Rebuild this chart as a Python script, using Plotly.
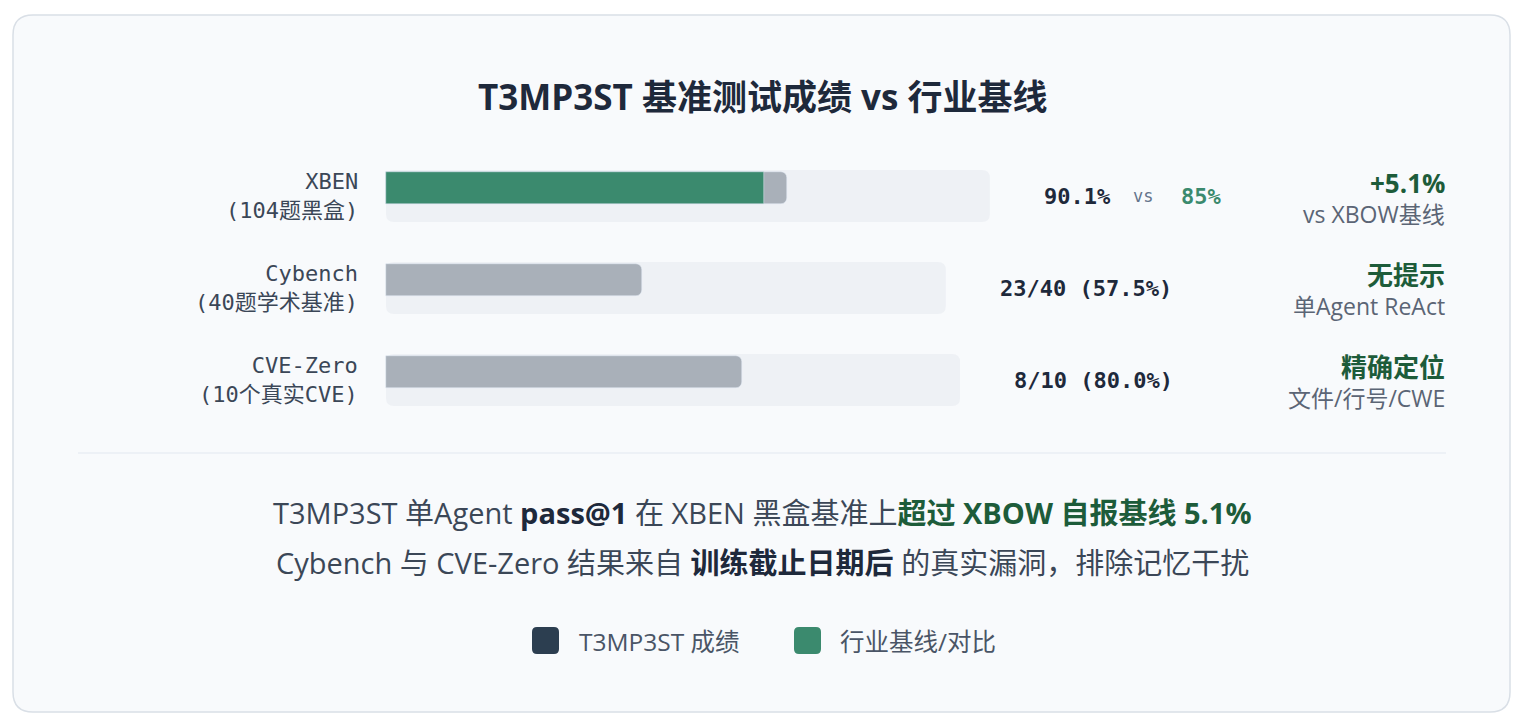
import plotly.graph_objects as go

W, H = 1524, 726

# ---------------- data ----------------
categories = ["XBEN", "Cybench", "CVE-Zero"]
sublabels = ["(104题黑盒)", "(40题学术基准)", "(10个真实CVE)"]
t3_scores = [90.1, 57.5, 80.0]          # T3MP3ST pass rate (%)
baseline = [85.0, None, None]            # industry baseline (%)
value_texts = ["90.1%", "23/40 (57.5%)", "8/10 (80.0%)"]
baseline_texts = ["85%", None, None]
badge_titles = ["+5.1%", "无提示", "精确定位"]
badge_subs = ["vs XBOW基线", "单Agent ReAct", "文件/行号/CWE"]
track_max = [135.7, 125.8, 129.0]        # width of light track per row (% scale)
legend_names = ["T3MP3ST 成绩", "行业基线/对比"]

# ---------------- style ----------------
SANS = "Segoe UI, Open Sans, Noto Sans CJK SC, sans-serif"
MONO = "DejaVu Sans Mono, Noto Sans CJK SC, monospace"
C_TITLE = "#1e293b"
C_TEXT = "#3b4757"
C_GRAY_TXT = "#5b6575"
C_GREEN = "#3b8a6e"
C_DKGREEN = "#1d5c3a"
C_BAR = "#a9b0b9"
C_TRACK = "#eef1f5"
C_NAVY = "#2c3e50"

X0_PX = 386.0          # pixel where 0% sits
PX_PER_PCT = 4.45      # pixel per percent
ROW0_PX = 188.0        # pixel center of first bar
ROW_STEP = 92.0
BAR_PX = 32.0


def px(x):
    return x / W


def py(y):
    return 1 - y / H


def rrect(x0, y0, x1, y1, r):
    """rounded rectangle path in paper coords from pixel box"""
    rx, ry = r / W, r / H
    X0, X1 = px(x0), px(x1)
    Y0, Y1 = py(y0), py(y1)  # Y0 top (larger), Y1 bottom
    return (f"M {X0+rx},{Y0} L {X1-rx},{Y0} Q {X1},{Y0} {X1},{Y0-ry} "
            f"L {X1},{Y1+ry} Q {X1},{Y1} {X1-rx},{Y1} L {X0+rx},{Y1} "
            f"Q {X0},{Y1} {X0},{Y1+ry} L {X0},{Y0-ry} Q {X0},{Y0} {X0+rx},{Y0} Z")


fig = go.Figure()

fig.add_trace(go.Bar(
    y=categories, x=t3_scores, orientation="h", name=legend_names[0],
    marker=dict(color=C_BAR, cornerradius=6), width=BAR_PX / ROW_STEP,
    showlegend=False, hoverinfo="skip"))
fig.add_trace(go.Bar(
    y=categories, x=baseline, orientation="h", name=legend_names[1],
    marker=dict(color=C_GREEN, cornerradius=6), width=BAR_PX / ROW_STEP,
    showlegend=False, hoverinfo="skip"))

xr = [-X0_PX / PX_PER_PCT, (W - X0_PX) / PX_PER_PCT]
yr = [(H - ROW0_PX) / ROW_STEP, -ROW0_PX / ROW_STEP]

shapes = []
# card
shapes.append(dict(type="path", path=rrect(13, 15, 1510, 712, 20), xref="paper", yref="paper",
                   fillcolor="#f8fafc", line=dict(color="#d9dfe6", width=1.5), layer="below"))
# tracks
for i, tm in enumerate(track_max):
    cy = ROW0_PX + i * ROW_STEP
    x_end = X0_PX + tm * PX_PER_PCT
    shapes.append(dict(type="path", path=rrect(X0_PX, cy - 18, x_end, cy + 34, 8),
                       xref="paper", yref="paper", fillcolor=C_TRACK, line=dict(width=0),
                       layer="below"))
# separator
shapes.append(dict(type="line", xref="paper", yref="paper", x0=px(78), x1=px(1446),
                   y0=py(453), y1=py(453), line=dict(color="#e2e8f0", width=1.2)))
# legend squares
for sx, col in [(532, C_NAVY), (794, C_GREEN)]:
    shapes.append(dict(type="path", path=rrect(sx, 627, sx + 27, 654, 5), xref="paper",
                       yref="paper", fillcolor=col, line=dict(width=0)))

ann = []
ann.append(dict(text="<b>T3MP3ST 基准测试成绩 vs 行业基线</b>", x=px(762), y=py(97),
                xref="paper", yref="paper", showarrow=False, xanchor="center", yanchor="middle",
                font=dict(family=SANS, size=35, color=C_TITLE)))

for i, cat in enumerate(categories):
    cy = ROW0_PX + i * ROW_STEP
    # left labels
    ann.append(dict(text=f"{cat}<br>{sublabels[i]}", x=px(360), y=cat, xref="paper", yref="y",
                    yshift=-8, showarrow=False, xanchor="right", yanchor="middle", align="right",
                    font=dict(family=MONO, size=22, color=C_TEXT)))
    # value texts
    vx = X0_PX + track_max[i] * PX_PER_PCT + 52
    ann.append(dict(text=f"<b>{value_texts[i]}</b>", x=px(vx), y=cat, xref="paper", yref="y",
                    yshift=-8, showarrow=False, xanchor="left", yanchor="middle",
                    font=dict(family=MONO, size=22, color=C_TITLE)))
    if baseline_texts[i]:
        ann.append(dict(text="vs", x=px(1143), y=cat, xref="paper", yref="y", yshift=-8,
                        showarrow=False, xanchor="center", yanchor="middle",
                        font=dict(family=MONO, size=17, color="#64748b")))
        ann.append(dict(text=f"<b>{baseline_texts[i]}</b>", x=px(1179), y=cat, xref="paper",
                        yref="y", yshift=-8, showarrow=False, xanchor="left", yanchor="middle",
                        font=dict(family=MONO, size=22, color=C_GREEN)))
    # right badges
    ann.append(dict(text=f"<b>{badge_titles[i]}</b>", x=px(1447), y=py(cy - 5), xref="paper",
                    yref="paper", showarrow=False, xanchor="right", yanchor="middle",
                    font=dict(family=SANS, size=26, color=C_DKGREEN)))
    ann.append(dict(text=badge_subs[i], x=px(1447), y=py(cy + 26), xref="paper",
                    yref="paper", showarrow=False, xanchor="right", yanchor="middle",
                    font=dict(family=SANS, size=23, color=C_GRAY_TXT)))

ann.append(dict(
    text=("T3MP3ST 单Agent <b><span style='color:#1e293b'>pass@1</span></b> 在 XBEN 黑盒基准上"
          "<b><span style='color:#1d5c3a'>超过 XBOW 自报基线 5.1%</span></b>"),
    x=px(762), y=py(512), xref="paper", yref="paper", showarrow=False,
    xanchor="center", yanchor="middle", font=dict(family=SANS, size=29, color="#3b4757")))
ann.append(dict(
    text=("Cybench 与 CVE-Zero 结果来自 <b><span style='color:#1e293b'>训练截止日期后</span></b>"
          " 的真实漏洞，排除记忆干扰"),
    x=px(762), y=py(562), xref="paper", yref="paper", showarrow=False,
    xanchor="center", yanchor="middle", font=dict(family=SANS, size=29, color="#3b4757")))

for lx, name in [(577, legend_names[0]), (838, legend_names[1])]:
    ann.append(dict(text=name, x=px(lx), y=py(641), xref="paper", yref="paper", showarrow=False,
                    xanchor="left", yanchor="middle",
                    font=dict(family=SANS, size=24.5, color="#4a5566")))

fig.update_layout(
    width=W, height=H, margin=dict(l=0, r=0, t=0, b=0),
    paper_bgcolor="white", plot_bgcolor="rgba(0,0,0,0)",
    barmode="overlay", bargap=0,
    xaxis=dict(range=xr, visible=False, fixedrange=True),
    yaxis=dict(range=yr, visible=False, type="category", categoryorder="array",
               categoryarray=categories, fixedrange=True),
    shapes=shapes, annotations=ann, showlegend=False,
)

fig.write_html("out.html", config={"displayModeBar": False})
